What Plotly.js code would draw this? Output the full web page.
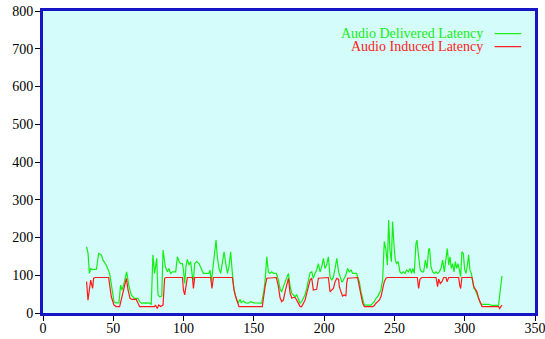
<!DOCTYPE html>
<html>
<head>
<meta charset="utf-8">
<script src="https://cdn.plot.ly/plotly-3.0.1.min.js"></script>
<style>
  html, body { margin: 0; padding: 0; background: #ffffff; }
  #chart { width: 545px; height: 339px; }
</style>
</head>
<body>
<div id="chart"></div>
<script>
// Audio latency over time (ms)
const deliveredX = [31,32,33,34,35,37,38,39.6,41.5,42.7,45,47.4,48.6,50.5,52,54,55.2,56.2,57.6,59.5,61,62.8,65,67.6,68.8,70,73,76,77,78.2,79.4,80.9,81.8,83,84.5,85.4,87,88.5,89.5,90.8,92,94.4,95.6,96.8,98,99.2,99.9,100.8,101.7,102.7,103.9,105,106.3,107,107.9,109.3,111,112.7,114,118,118.8,119.8,121.2,122.1,123.1,124,125.2,126.4,127.6,128.8,130,131.2,132.3,133.5,134.7,135.9,137.1,138.7,140.2,141,142.5,144.2,146,147.7,150,152,155.6,156.3,157.3,158.2,159.2,160.3,161.5,162.7,164,166,167.5,168.6,169.8,171,172.2,173.4,174.6,175.8,177,178.1,179.3,180.5,181.7,182.9,184,185.2,186.4,187.6,188.8,190,191.2,192.3,193.5,194.7,195.9,197.1,198.3,199.5,200.6,201.8,203,204.2,205.4,206.6,207.8,209,210.3,211.5,212.5,213.1,214.3,215.5,216.7,217.9,219.1,220.3,223,225,226.2,227.4,228.6,233.3,234.5,235.7,236.9,238,239.2,240.4,241.6,242.8,244,245,245.9,246.8,247.8,248.7,249.7,250.6,251.6,252.7,253.9,255.1,256.3,257.5,258.7,259.9,261,262.2,263,264.1,265.3,266,267.2,268.4,269.6,270.8,272,273.2,274.3,275,276,277.2,278.4,279.6,280.8,281.9,283.1,284.3,285.5,286.7,287.6,288.6,289.5,290.5,291.4,292.4,293.3,294.3,295.2,296.2,297.1,298,299,300,300.9,301.9,302.8,303.7,304.7,305.6,306.6,307.5,308.7,309.9,311.1,312.3,317,318.2,319.4,323.6,324.1,325.3,326.5];
const deliveredY = [175,160,105,118,115,115,116,158,154,140,127,105,74,30,27,27,74,61,78,109,74,48,39,39,30,26,27,26,22,154,105,145,48,43,45,167,123,109,118,105,109,109,149,136,131,131,114,78,123,142,127,136,96,87,131,136,131,118,105,105,114,83,131,167,193,149,118,105,131,162,131,105,123,162,105,61,43,26,36,27,32,27,26,30,27,26,26,43,61,96,149,109,105,109,105,105,87,65,56,70,83,96,105,70,52,48,43,48,39,26,30,39,48,65,87,107,109,92,105,114,131,109,123,145,118,127,149,96,87,96,118,145,109,92,83,83,92,101,118,109,114,105,105,83,56,34,21,21,26,30,39,43,52,61,87,189,167,127,246,167,136,242,180,140,131,136,109,105,109,105,114,109,118,105,118,105,184,193,149,114,109,109,140,118,167,171,123,109,105,109,105,109,118,140,109,140,171,127,149,118,131,109,136,118,131,114,96,162,158,114,105,127,154,114,105,87,65,61,52,39,26,23,23,21,20,20,21,61,98];

const inducedX = [31,32,33.9,35.3,36,37.2,46.7,47.4,48.6,50.5,52,54.5,55.7,57.6,59.3,60.5,61.9,63.3,66.4,67.6,68.8,79.4,80,81.3,82.3,83.7,85.4,86.5,87.5,99.2,99.9,100.8,101.7,102.7,106.3,107,107.9,119.3,120.2,121.2,134.7,135.9,137.1,138.3,139.4,156,156.8,158,159.2,166,167.5,168.6,169.8,171,172.2,173.4,174.6,175.8,177,178.1,179.3,180.5,181.7,182.9,184,185.2,186.4,187.6,188.8,190,191.2,192.3,194.7,195.9,203,204.2,205.4,206.6,207.8,209,210.3,210.8,212,213.1,214.3,215.5,216,216.7,223.8,225,226.2,227.4,228.6,234.5,235.7,236.9,238,239.2,240.4,241.6,242.8,244,245,266.3,267.2,268.2,269.6,279.6,280.7,281.5,282.6,283.8,285,286.7,287.4,288.6,295.7,296.4,297.1,298,305.2,306.4,307.5,308.7,309.9,311.1,312.3,324.1,324.8,325.7,326.5];
const inducedY = [83,34,87,65,92,94,94,70,43,21,17,17,34,61,92,61,39,36,36,26,17,17,21,12,21,17,21,92,94,94,61,48,78,94,94,65,94,94,65,94,94,61,43,26,17,17,43,70,92,94,70,41,30,34,56,74,92,52,39,41,41,34,26,17,17,26,34,52,74,87,92,61,63,92,94,56,61,65,83,92,89,70,56,45,48,45,78,92,94,65,48,26,17,17,20,26,30,34,43,61,83,92,94,94,65,90,94,94,70,90,78,83,94,94,83,94,94,74,65,94,94,70,61,56,39,26,17,17,12,17,21];

const seriesNames = ['Audio Delivered Latency', 'Audio Induced Latency'];
const seriesColors = ['#14ee14', '#ff1a1a'];

const xTicks = [0, 50, 100, 150, 200, 250, 300, 350];
const yTicks = [0, 100, 200, 300, 400, 500, 600, 700, 800];

const serif = 'Liberation Serif';

const traces = [
  { x: deliveredX, y: deliveredY, name: seriesNames[0], type: 'scatter', mode: 'lines',
    line: { color: seriesColors[0], width: 1.2 }, showlegend: false },
  { x: inducedX, y: inducedY, name: seriesNames[1], type: 'scatter', mode: 'lines',
    line: { color: seriesColors[1], width: 1.2 }, showlegend: false }
];

// Key: right-aligned label followed by a short line sample
const keyY = [0.925, 0.882];
const annotations = seriesNames.map((n, i) => ({
  xref: 'paper', yref: 'paper', x: 0.898, y: keyY[i],
  xanchor: 'right', yanchor: 'middle', showarrow: false,
  text: n, font: { family: serif, size: 14, color: seriesColors[i] }
}));
const shapes = seriesNames.map((n, i) => ({
  type: 'line', xref: 'paper', yref: 'paper',
  x0: 0.918, x1: 0.972, y0: keyY[i], y1: keyY[i],
  line: { color: seriesColors[i], width: 1.2 }
}));

const axisCommon = {
  showgrid: false, zeroline: false,
  showline: true, mirror: true, linecolor: '#1616c4', linewidth: 3,
  ticks: 'outside', ticklen: 5, tickwidth: 1, tickcolor: '#000000',
  ticklabeloverflow: 'allow',
  tickfont: { family: serif, size: 14, color: '#000000' }
};

const layout = {
  width: 545, height: 339,
  margin: { l: 43, r: 10, t: 11, b: 26 },
  paper_bgcolor: '#ffffff',
  plot_bgcolor: '#d4fcfa',
  font: { family: serif, size: 14, color: '#000000' },
  showlegend: false,
  xaxis: Object.assign({}, axisCommon, { range: [0, 350], tickvals: xTicks, ticktext: xTicks.map(String), ticklabelstandoff: -5 }),
  yaxis: Object.assign({}, axisCommon, { range: [0, 800], tickvals: yTicks, ticktext: yTicks.map(String), ticklabelstandoff: -1 }),
  annotations: annotations,
  shapes: shapes
};

Plotly.newPlot('chart', traces, layout, { staticPlot: true, displayModeBar: false });
</script>
</body>
</html>
